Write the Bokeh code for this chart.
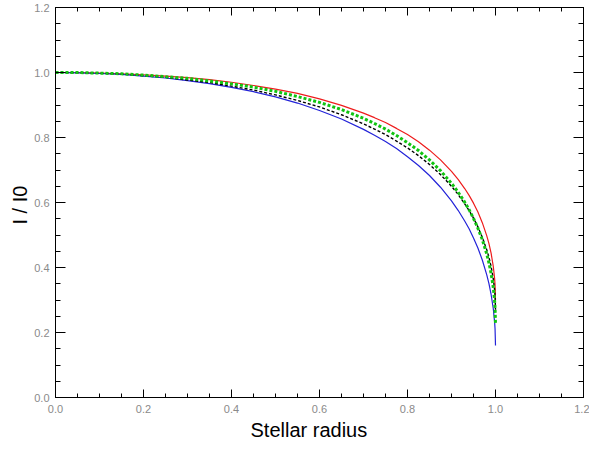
from bokeh.plotting import figure
from bokeh.models import (LinearAxis, Range1d, Title, FixedTicker, PrintfTickFormatter,
                          CustomLabelingPolicy)
from bokeh.embed import file_html
from bokeh.resources import INLINE

radius = [0.0, 0.05, 0.1, 0.15, 0.2, 0.25, 0.3, 0.35, 0.4, 0.45, 0.5, 0.55, 0.6, 0.65,
          0.7, 0.725, 0.75, 0.775, 0.8, 0.825, 0.85, 0.875, 0.9, 0.915, 0.93, 0.94, 0.95,
          0.96, 0.97, 0.98, 0.985, 0.99, 0.995, 0.998, 0.999, 1.0]

red_curve = [1.000, 1.000, 0.998, 0.996, 0.993, 0.989, 0.984, 0.978, 0.970, 0.960, 0.949,
             0.936, 0.919, 0.899, 0.875, 0.861, 0.846, 0.828, 0.809, 0.787, 0.761, 0.731,
             0.696, 0.671, 0.643, 0.622, 0.598, 0.571, 0.538, 0.498, 0.474, 0.444, 0.403,
             0.366, 0.347, 0.300]
blue_curve = [1.000, 0.999, 0.997, 0.994, 0.989, 0.983, 0.975, 0.966, 0.954, 0.941, 0.925,
              0.906, 0.883, 0.857, 0.825, 0.807, 0.788, 0.766, 0.741, 0.714, 0.683, 0.647,
              0.605, 0.576, 0.543, 0.519, 0.491, 0.460, 0.423, 0.378, 0.351, 0.317, 0.273,
              0.232, 0.211, 0.160]
black_curve = [1.000, 0.999, 0.998, 0.995, 0.990, 0.985, 0.977, 0.969, 0.958, 0.946, 0.931,
               0.914, 0.894, 0.870, 0.842, 0.826, 0.809, 0.789, 0.768, 0.744, 0.717, 0.686,
               0.650, 0.625, 0.596, 0.575, 0.552, 0.525, 0.493, 0.455, 0.432, 0.403, 0.365,
               0.331, 0.313, 0.270]
green_curve = [1.000, 1.000, 0.998, 0.996, 0.992, 0.987, 0.982, 0.974, 0.965, 0.955, 0.942,
               0.926, 0.908, 0.886, 0.859, 0.843, 0.826, 0.806, 0.784, 0.760, 0.731, 0.698,
               0.659, 0.632, 0.601, 0.578, 0.551, 0.521, 0.486, 0.442, 0.415, 0.382, 0.338,
               0.297, 0.276, 0.225]

major_ticks = [0.0, 0.2, 0.4, 0.6, 0.8, 1.0, 1.2]
minor_ticks = [0.05, 0.1, 0.15, 0.25, 0.3, 0.35, 0.45, 0.5, 0.55, 0.65, 0.7, 0.75,
               0.85, 0.9, 0.95, 1.05, 1.1, 1.15]

p = figure(width=589, height=452, output_backend="svg", toolbar_location=None,
           x_range=Range1d(0, 1.2), y_range=Range1d(0, 1.2),
           min_border_left=55, min_border_right=6, min_border_top=7, min_border_bottom=55)
p.xgrid.visible = False
p.ygrid.visible = False
p.outline_line_color = "black"
p.background_fill_color = "white"
p.border_fill_color = "white"

p.line(radius, red_curve, line_color="#ee1c1c", line_width=1.2, line_join="round")
p.line(radius, blue_curve, line_color="#2323d8", line_width=1.2, line_join="round")
p.line(radius, black_curve, line_color="black", line_width=1.4, line_dash="3 2",
       line_join="round")
p.line(radius, green_curve, line_color="#11c411", line_width=3, line_dash="3 2",
       line_join="round")


def style(ax, tin, tmin, labels):
    ax.ticker = FixedTicker(ticks=major_ticks, minor_ticks=minor_ticks)
    ax.formatter = PrintfTickFormatter(format="%.1f")
    ax.axis_line_color = "black"
    ax.axis_line_width = 1
    ax.major_tick_in = tin
    ax.major_tick_out = 0
    ax.minor_tick_in = tmin
    ax.minor_tick_out = 0
    ax.major_tick_line_color = "black"
    ax.minor_tick_line_color = "black"
    ax.major_label_text_font = "Liberation Sans"
    ax.major_label_text_font_size = "11px" if labels else "0px"
    ax.major_label_text_color = "#8a8a8a"
    ax.major_label_standoff = 7 if labels else 0
    if not labels:
        ax.major_label_policy = CustomLabelingPolicy(code="return new Set()")


style(p.xaxis[0], 8, 4, True)
style(p.yaxis[0], 10, 5, True)
p.yaxis[0].major_label_standoff = 6

top = LinearAxis()
style(top, 8, 4, False)
p.add_layout(top, "above")
right = LinearAxis()
style(right, 10, 5, False)
p.add_layout(right, "right")

xt = Title(text="Stellar radius", align="left", offset=195, standoff=2,
           text_font="Liberation Sans", text_font_size="20px", text_font_style="normal",
           text_color="black")
p.add_layout(xt, "below")
yt = Title(text="I / I0", align="left", offset=173, standoff=2,
           text_font="Liberation Sans", text_font_size="20px", text_font_style="normal",
           text_color="black")
p.add_layout(yt, "left")

open("out.html", "w").write(file_html(p, INLINE))
